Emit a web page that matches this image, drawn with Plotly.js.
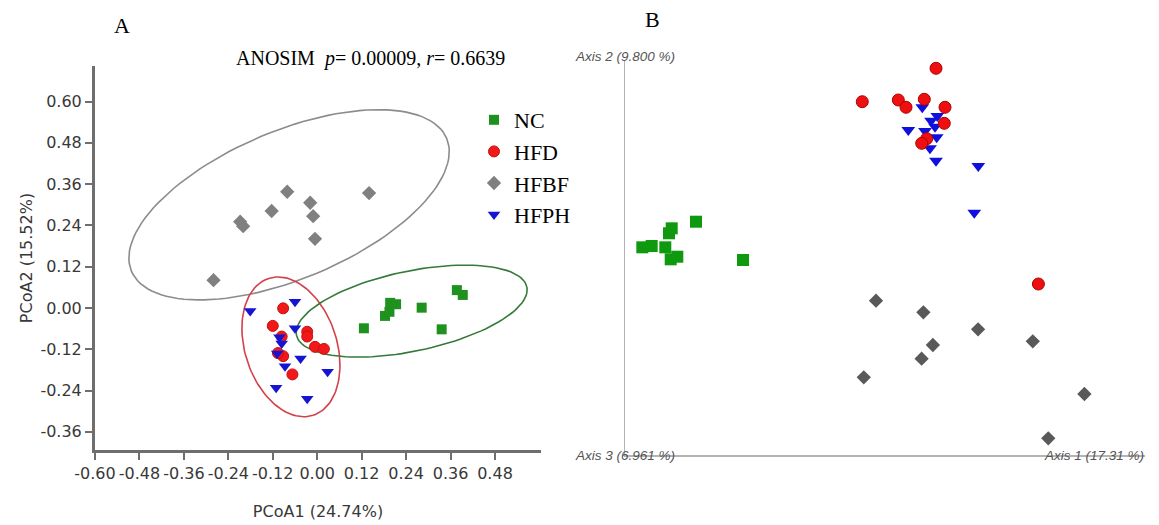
<!DOCTYPE html>
<html>
<head>
<meta charset="utf-8">
<script src="https://cdn.plot.ly/plotly-3.0.1.min.js"></script>
<style>html,body{margin:0;padding:0;background:#fff}#chart{width:1159px;height:525px}</style>
</head>
<body>
<div id="chart"></div>
<script>
// ---------- Panel A: PCoA (PCoA1 vs PCoA2) ----------
const categories = ["NC", "HFD", "HFBF", "HFPH"];

const ncA_x   = [0.126, 0.183, 0.195, 0.197, 0.213, 0.282, 0.336, 0.377, 0.393];
const ncA_y   = [-0.059, -0.023, -0.011, 0.015, 0.011, 0.001, -0.062, 0.052, 0.038];

const hfdA_x  = [-0.092, -0.120, -0.027, -0.027, -0.006, 0.018, -0.096, -0.092, -0.067, -0.106];
const hfdA_y  = [-0.001, -0.052, -0.069, -0.083, -0.113, -0.119, -0.083, -0.140, -0.193, -0.131];

const hfbfA_x = [-0.280, -0.208, -0.200, -0.123, -0.081, -0.019, -0.011, -0.006, 0.140];
const hfbfA_y = [0.081, 0.251, 0.238, 0.282, 0.338, 0.306, 0.267, 0.201, 0.334];

const hfphA_x = [-0.181, -0.060, -0.060, -0.102, -0.096, -0.108, -0.045, -0.087, 0.028, -0.111, -0.027];
const hfphA_y = [-0.009, 0.018, -0.059, -0.085, -0.103, -0.132, -0.147, -0.169, -0.185, -0.232, -0.264];

// group ellipses: [centerX, centerY, axis1X, axis1Y, axis2X, axis2Y] in data units
const ellipseHFBF = [-0.076, 0.300, 0.426, 0.192, -0.075, 0.199];
const ellipseHFD  = [-0.071, -0.113, -0.060, 0.199, 0.118, 0.041];
const ellipseNC   = [0.255, -0.009, 0.311, 0.070, -0.022, 0.114];

const xTicksA = [-0.60, -0.48, -0.36, -0.24, -0.12, 0.00, 0.12, 0.24, 0.36, 0.48];
const xTickLabelsA = ["-0.60", "-0.48", "-0.36", "-0.24", "-0.12", "0.00", "0.12", "0.24", "0.36", "0.48"];
const yTicksA = [0.60, 0.48, 0.36, 0.24, 0.12, 0.00, -0.12, -0.24, -0.36];
const yTickLabelsA = ["0.60", "0.48", "0.36", "0.24", "0.12", "0.00", "-0.12", "-0.24", "-0.36"];

// ---------- Panel B: 3-D PCoA view (Axis 1 / Axis 2) ----------
const ncB_x   = [3.33, 5.13, 7.75, 8.46, 8.98, 8.79, 10.06, 13.65, 22.69];
const ncB_y   = [52.58, 52.91, 52.58, 56.13, 57.39, 49.54, 50.20, 59.06, 49.37];

const hfdB_x  = [59.81, 45.63, 52.56, 54.04, 57.56, 61.54, 61.40, 58.02, 57.06, 79.50];
const hfdB_y  = [97.90, 89.44, 89.87, 88.03, 90.05, 88.03, 83.97, 80.08, 78.91, 43.29];

const hfbfB_x = [48.27, 57.38, 67.90, 78.42, 59.21, 57.04, 45.92, 88.35, 81.40];
const hfbfB_y = [39.06, 36.13, 31.82, 28.78, 27.85, 24.38, 19.67, 15.44, 4.23];

const hfphB_x = [57.17, 60.06, 58.85, 59.62, 54.48, 57.69, 59.94, 58.65, 59.81, 67.94, 67.17];
const hfphB_y = [88.03, 85.82, 84.63, 83.11, 82.28, 82.03, 80.43, 77.65, 74.51, 73.16, 61.34];

// ---------- helpers ----------
function ellipsePath(p) {
  const xs = [], ys = [];
  for (let i = 0; i <= 120; i++) {
    const t = 2 * Math.PI * i / 120;
    xs.push(p[0] + p[2] * Math.cos(t) + p[4] * Math.sin(t));
    ys.push(p[1] + p[3] * Math.cos(t) + p[5] * Math.sin(t));
  }
  return {x: xs, y: ys};
}
function ellipseTrace(p, color) {
  const e = ellipsePath(p);
  return {x: e.x, y: e.y, type: "scatter", mode: "lines", line: {color: color, width: 1.6},
          hoverinfo: "skip", showlegend: false, xaxis: "x", yaxis: "y"};
}

const colNC = "#1f911f", colHFD = "#f01818", colHFBF = "#808080", colHFPH = "#1414d2";

const traces = [
  ellipseTrace(ellipseHFBF, "#8c8c8c"),
  ellipseTrace(ellipseHFD, "#d4404a"),
  ellipseTrace(ellipseNC, "#357a3a"),
  {x: ncA_x, y: ncA_y, name: categories[0], legendgroup: "NC", type: "scatter", mode: "markers",
   marker: {symbol: "square", size: 10, color: colNC}, xaxis: "x", yaxis: "y"},
  {x: hfdA_x, y: hfdA_y, name: categories[1], legendgroup: "HFD", type: "scatter", mode: "markers",
   marker: {symbol: "circle", size: 11, color: colHFD, line: {color: "#c81010", width: 1}}, xaxis: "x", yaxis: "y"},
  {x: hfbfA_x, y: hfbfA_y, name: categories[2], legendgroup: "HFBF", type: "scatter", mode: "markers",
   marker: {symbol: "diamond", size: 11, color: colHFBF}, xaxis: "x", yaxis: "y"},
  {x: hfphA_x, y: hfphA_y, name: categories[3], legendgroup: "HFPH", type: "scatter", mode: "markers",
   marker: {symbol: "triangle-down", size: 11, color: colHFPH}, xaxis: "x", yaxis: "y"},

  {x: ncB_x, y: ncB_y, name: categories[0], legendgroup: "NC", showlegend: false, type: "scatter", mode: "markers",
   marker: {symbol: "square", size: 12, color: "#0e990e"}, xaxis: "x2", yaxis: "y2"},
  {x: hfbfB_x, y: hfbfB_y, name: categories[2], legendgroup: "HFBF", showlegend: false, type: "scatter", mode: "markers",
   marker: {symbol: "diamond", size: 11, color: "#595959"}, xaxis: "x2", yaxis: "y2"},
  {x: hfphB_x, y: hfphB_y, name: categories[3], legendgroup: "HFPH", showlegend: false, type: "scatter", mode: "markers",
   marker: {symbol: "triangle-down", size: 12, color: "#1010dc"}, xaxis: "x2", yaxis: "y2"},
  {x: hfdB_x, y: hfdB_y, name: categories[1], legendgroup: "HFD", showlegend: false, type: "scatter", mode: "markers",
   marker: {symbol: "circle", size: 12, color: "#ee1010", line: {color: "#b00000", width: 1}}, xaxis: "x2", yaxis: "y2"}
];

const W = 1159, H = 525;
const axisGray = "#6e6e6e";
const tickFont = {family: "DejaVu Sans", size: 16, color: "#383838"};
const titleFont = {family: "DejaVu Sans", size: 16, color: "#383838"};

const layout = {
  width: W, height: H,
  margin: {l: 0, r: 0, t: 0, b: 0},
  paper_bgcolor: "#fff", plot_bgcolor: "rgba(0,0,0,0)",
  showlegend: true,
  legend: {x: 474 / W, y: 1 - 99 / H, xanchor: "left", yanchor: "top",
           font: {family: "Liberation Serif", size: 22, color: "#000"},
           bgcolor: "rgba(0,0,0,0)", tracegroupgap: 0, itemwidth: 30},
  xaxis: {domain: [95 / W, 541 / W], range: [-0.6, 0.6042], anchor: "y",
          tickmode: "array", tickvals: xTicksA, ticktext: xTickLabelsA, tickangle: 0,
          ticks: "outside", ticklen: 7, tickwidth: 2, tickcolor: axisGray,
          showline: true, linecolor: axisGray, linewidth: 3,
          showgrid: false, zeroline: false, tickfont: tickFont, automargin: false,
          title: {text: "PCoA1 (24.74%)", font: titleFont, standoff: 24}},
  yaxis: {domain: [1 - 450 / H, 1 - 66 / H], range: [-0.4128, 0.7035], anchor: "x",
          tickmode: "array", tickvals: yTicksA, ticktext: yTickLabelsA, tickangle: 0,
          ticks: "outside", ticklen: 7, tickwidth: 2, tickcolor: axisGray,
          showline: true, linecolor: axisGray, linewidth: 3,
          showgrid: false, zeroline: false, tickfont: tickFont, automargin: false,
          title: {text: "PCoA2 (15.52%)", font: titleFont, standoff: 4}},
  xaxis2: {domain: [625 / W, 1145 / W], range: [0, 100], anchor: "y2",
           showline: true, linecolor: "#b4b4b4", linewidth: 1.5,
           showticklabels: false, ticks: "", showgrid: false, zeroline: false},
  yaxis2: {domain: [1 - 455 / H, 1 - 60 / H], range: [0, 100], anchor: "x2",
           showline: true, linecolor: "#b4b4b4", linewidth: 1.5,
           showticklabels: false, ticks: "", showgrid: false, zeroline: false},
  annotations: [
    {text: "A", xref: "paper", yref: "paper", x: 122 / W, y: 1 - 25 / H, xanchor: "center", yanchor: "middle",
     showarrow: false, font: {family: "Liberation Serif", size: 22, color: "#000"}},
    {text: "B", xref: "paper", yref: "paper", x: 652 / W, y: 1 - 20 / H, xanchor: "center", yanchor: "middle",
     showarrow: false, font: {family: "Liberation Serif", size: 22, color: "#000"}},
    {text: "ANOSIM  <i>p</i>= 0.00009, <i>r</i>= 0.6639", xref: "paper", yref: "paper",
     x: 370 / W, y: 1 - 58 / H, xanchor: "center", yanchor: "middle", showarrow: false,
     font: {family: "Liberation Serif", size: 20, color: "#000"}},
    {text: "<i>Axis 2 (9.800 %)</i>", xref: "paper", yref: "paper", x: 573 / W, y: 1 - 57 / H,
     xanchor: "left", yanchor: "middle", showarrow: false,
     font: {family: "Liberation Sans", size: 13.5, color: "#555"}},
    {text: "<i>Axis 3 (6.961 %)</i>", xref: "paper", yref: "paper", x: 573 / W, y: 1 - 455 / H,
     xanchor: "left", yanchor: "middle", showarrow: false,
     font: {family: "Liberation Sans", size: 13.5, color: "#555"}},
    {text: "<i>Axis 1 (17.31 %)</i>", xref: "paper", yref: "paper", x: 1146 / W, y: 1 - 455 / H,
     xanchor: "right", yanchor: "middle", showarrow: false,
     font: {family: "Liberation Sans", size: 13.5, color: "#555"}}
  ]
};

Plotly.newPlot("chart", traces, layout, {displayModeBar: false, staticPlot: true});
</script>
</body>
</html>
